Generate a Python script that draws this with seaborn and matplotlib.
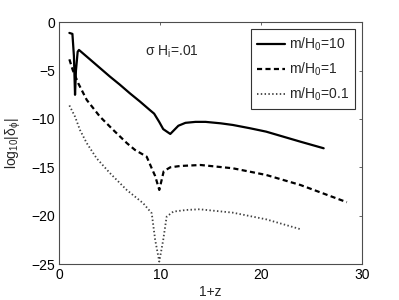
import numpy as np
import pandas as pd
import matplotlib
matplotlib.use("Agg")
import matplotlib.pyplot as plt
import seaborn as sns

# Datos (1+z, log10|delta_phi|)

x_m10 = [1.0, 1.3, 1.45, 1.56, 1.65, 1.82, 1.95, 3.0, 4.0, 5.0, 6.0, 7.0, 8.0, 9.0, 9.4,
         9.9, 10.3, 11.0, 11.8, 12.5, 13.5, 14.5, 16.0, 17.2, 18.9, 20.5, 22.2, 23.9, 26.2]
y_m10 = [-1.1, -1.2, -3.5, -7.5, -5.0, -3.05, -2.86, -3.8, -4.7, -5.6, -6.45, -7.35, -8.2,
         -9.1, -9.45, -10.3, -11.05, -11.55, -10.7, -10.4, -10.3, -10.3, -10.45, -10.62,
         -10.96, -11.31, -11.83, -12.35, -13.03]

x_m1 = [1.0, 1.33, 1.88, 2.72, 4.03, 5.35, 6.7, 7.5, 8.66, 9.16, 9.5, 9.91, 10.35, 11.0,
        12.0, 14.0, 17.2, 20.5, 23.9, 28.5]
y_m1 = [-3.83, -4.93, -6.31, -8.03, -9.76, -11.14, -12.5, -13.2, -13.9, -15.1, -15.9,
        -17.34, -15.4, -15.0, -14.86, -14.76, -15.1, -15.79, -16.83, -18.61]

x_m01 = [1.0, 1.56, 2.05, 2.72, 3.7, 5.02, 6.68, 8.32, 9.16, 9.5, 9.91, 10.3, 10.64,
         11.3, 12.6, 13.9, 17.2, 20.5, 23.9]
y_m01 = [-8.6, -9.76, -11.14, -12.5, -14.07, -15.6, -17.34, -18.72, -19.75, -22.5,
         -24.75, -22.5, -20.1, -19.58, -19.41, -19.34, -19.69, -20.38, -21.4]

labels = ["m/H$_0$=10", "m/H$_0$=1", "m/H$_0$=0.1"]

sns.set_style("white")
plt.rcParams["font.family"] = ["Liberation Sans", "DejaVu Sans"]
plt.rcParams["font.size"] = 10
plt.rcParams["mathtext.default"] = "regular"

fig = plt.figure(figsize=(3.99, 3.0), dpi=100)
ax = fig.add_axes([0.1486, 0.12, 0.7587, 0.8057])

df10 = pd.DataFrame({"x": x_m10, "y": y_m10})
df1 = pd.DataFrame({"x": x_m1, "y": y_m1})
df01 = pd.DataFrame({"x": x_m01, "y": y_m01})

sns.lineplot(data=df10, x="x", y="y", ax=ax, sort=False, estimator=None,
             color="black", linewidth=1.6, label=labels[0])
sns.lineplot(data=df1, x="x", y="y", ax=ax, sort=False, estimator=None,
             color="black", linewidth=1.6, linestyle=(0, (2.3, 1.5)), label=labels[1])
sns.lineplot(data=df01, x="x", y="y", ax=ax, sort=False, estimator=None,
             color="0.25", linewidth=1.3, linestyle=(0, (0.8, 1.3)), label=labels[2])

ax.set_xlim(0, 30)
ax.set_ylim(-25, 0)
ax.set_xticks([0, 10, 20, 30])
ax.set_yticks([-25, -20, -15, -10, -5, 0])
ax.set_yticklabels(["\u221225", "\u221220", "\u221215", "\u221210", "\u22125", "0"])
ax.tick_params(direction="in", length=2.5, width=0.6, top=True, right=True,
               labelsize=10, colors="0.3", labelcolor="black", pad=3)
for s in ax.spines.values():
    s.set_color("0.3")
    s.set_linewidth(0.8)

ax.set_xlabel("1+z", fontsize=10)
ax.set_ylabel("log$_{10}$|$\\delta_\\phi$|", fontsize=10)
ax.xaxis.set_label_coords(0.5, -0.085)
ax.yaxis.set_label_coords(-0.12, 0.5)

ax.text(8.5, -3.45, "$\\sigma$ H$_i$=.01", fontsize=10, va="baseline")

leg = ax.legend(loc="upper right", fancybox=False, edgecolor="0.2", framealpha=1,
                fontsize=10, handlelength=2.0, labelspacing=0.55, borderpad=0.45,
                handletextpad=0.3, borderaxespad=0.5)
leg.get_frame().set_linewidth(0.8)

fig.savefig("out.png", dpi=100)
